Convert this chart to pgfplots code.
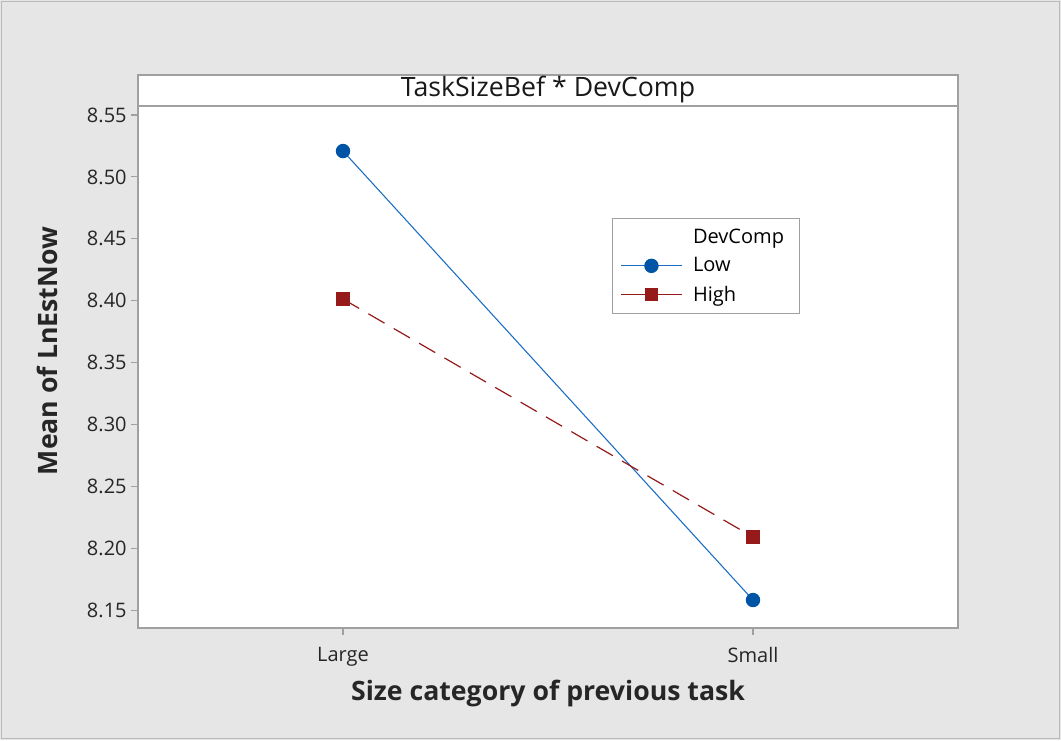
\documentclass[border=0pt]{standalone}
\usepackage{pgfplots}
\pgfplotsset{compat=1.18}
\usepackage{fontspec}
\setmainfont{Open Sans}
\definecolor{bg}{HTML}{E6E6E6}
\definecolor{frame}{HTML}{A0A0A0}
\definecolor{lowc}{HTML}{0054A6}
\definecolor{lowline}{HTML}{1A6CC4}
\definecolor{highc}{HTML}{961A1A}
\begin{document}
\begin{tikzpicture}[x=0.75pt,y=0.75pt]
\fill[bg] (0,0) rectangle (1061,740);
\draw[gray!55, line width=1pt] (1.5,1.5) rectangle (1059.5,738.5);
\draw[frame, fill=white, line width=1pt] (138,634) rectangle (958,665);
\node[font=\fontsize{20}{22}\selectfont, black!90] at (548,650) {TaskSizeBef * DevComp};
\begin{axis}[
  at={(103.5pt,84pt)}, anchor=south west,
  scale only axis, width=615pt, height=391.5pt,
  xmin=-0.5, xmax=1.5, ymin=8.1355, ymax=8.5573,
  xtick={0,1}, xticklabels={Large,Small},
  ytick={8.15,8.20,8.25,8.30,8.35,8.40,8.45,8.50,8.55},
  yticklabel style={/pgf/number format/.cd, fixed, fixed zerofill, precision=2},
  /pgf/number format/assume math mode=true,
  tick label style={font=\fontsize{15}{17}\selectfont, black!85},
  xticklabel style={yshift=-6pt},
  tick align=outside, tick pos=left, major tick length=5pt,
  tick style={frame, line width=0.8pt},
  axis line style={frame, line width=1pt},
  axis background/.style={fill=white},
  xlabel={Size category of previous task},
  ylabel={Mean of LnEstNow},
  xlabel style={font=\fontsize{20}{22}\selectfont\bfseries, black!85, yshift=-3pt},
  ylabel style={font=\fontsize{20}{22}\selectfont\bfseries, black!85, yshift=15pt, xshift=12pt},
  legend style={at={(0.578,0.7854)}, anchor=north west, draw=frame, line width=0.8pt,
    font=\fontsize{15}{17}\selectfont, inner xsep=6pt, inner ysep=6pt, row sep=5pt,
    nodes={text width=72pt, align=left}},
  legend cell align=left,
  legend image code/.code={\draw[mark repeat=2,mark phase=2,#1,solid] plot coordinates {(0cm,0cm)(0.8cm,0cm)(1.6cm,0cm)};\path (1.6cm+6pt,0cm);},
]
\addlegendimage{empty legend}
\addlegendentry{DevComp}
\addplot[lowline, line width=0.8pt, mark=*, mark size=5pt, mark options={solid, fill=lowc, draw=lowc}] coordinates {(0,8.5209) (1,8.1581)};
\addlegendentry{Low}
\addplot[highc, line width=0.9pt, dash pattern=on 14pt off 8pt, mark=square*, mark size=4.6pt, mark options={solid}] coordinates {(0,8.4013) (1,8.2090)};
\addlegendentry{High}
\end{axis}
\end{tikzpicture}
\end{document}
